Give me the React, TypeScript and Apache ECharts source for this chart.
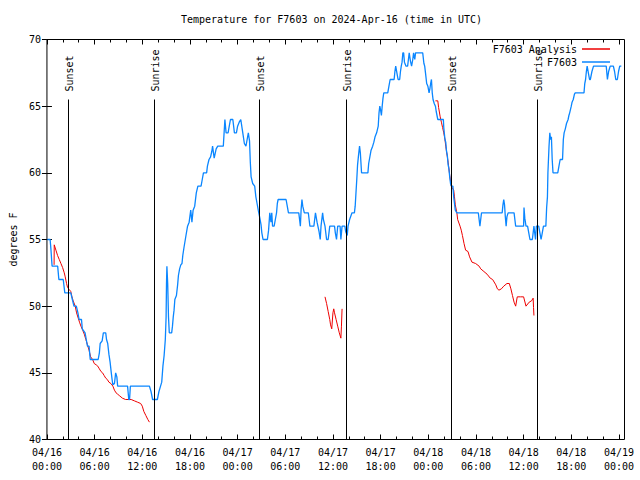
import React, { useEffect, useRef } from 'react';
import * as echarts from 'echarts';

const TITLE = 'Temperature for F7603 on 2024-Apr-16 (time in UTC)';
const Y_NAME = 'degrees F';
const START_MONTH = '04';
const START_DAY = 16;
const X_MAX = 72.7;
const Y_MIN = 40;
const Y_MAX = 70;
const Y_STEP = 5;
const SUN_LINE_TOP = 65.5;

const majorTicks = [0, 6, 12, 18, 24, 30, 36, 42, 48, 54, 60, 66, 72];
const minorTicks = [2, 4, 8, 10, 14, 16, 20, 22, 26, 28, 32, 34, 38, 40, 44, 46, 50, 52, 56, 58, 62, 64, 68, 70];

const sunsetHours = [2.65, 26.7, 50.85];
const sunriseHours = [13.45, 37.68, 61.69];

// F7603 observations: [hours since 04/16 00:00 UTC, deg F]
const obsF7603: [number, number][] = [
  [0.05,55],[0.4,55],[0.5,54.3],[0.6,53.4],[0.65,53],[1.35,53],[1.5,52],[2.05,52],[2.25,51],[3.0,51],[3.2,50.5],[3.4,50],[3.7,50],[3.9,49.5],[4.05,49],[4.35,49],[4.45,48.3],[4.8,48],[4.95,47.5],[5.1,47],[5.3,47],[5.45,46],[6.45,46],[6.6,46.5],[6.7,47.2],[6.95,47.4],[7.1,48],[7.4,48],[7.5,47.5],[7.65,47.2],[7.8,46.4],[7.95,45.8],[8.1,45],[8.2,44.5],[8.3,44.1],[8.5,44.2],[8.65,45],[8.8,44.7],[8.9,44],[10.15,44],[10.3,43],[10.4,43],[10.5,44],[12.9,44],[13.1,43.6],[13.3,43],[13.9,43],
  [14.1,43.6],[14.3,44],[14.45,44.3],[14.6,45.5],[14.75,46.3],[14.9,47.5],[15.0,49.2],[15.05,51.7],[15.1,53],[15.2,51.7],[15.3,49.2],[15.4,48],[15.7,48],[15.8,48.5],[15.9,49.2],[16.0,49.7],[16.1,50.5],[16.3,50.8],[16.45,51.6],[16.55,52.3],[16.7,52.8],[16.85,53.1],[17.0,53.2],[17.1,53.8],[17.25,54.4],[17.5,55.3],[17.7,56],[17.9,56.3],[18.1,57.2],[18.25,56.3],[18.4,57.2],[18.6,57.5],[18.8,58.5],[19.0,59],[19.4,59],[19.55,59.5],[19.7,60],[20.1,60],[20.2,60.5],[20.4,61],[20.6,61.2],[20.75,61.6],[20.85,62],[21.05,61.1],[21.3,61.8],[21.5,62],[22.2,62],[22.3,63],[22.4,64],[22.55,63],[22.8,63],[22.95,63.5],[23.1,64],[23.4,64],[23.6,63],[23.85,63],[24.0,63.5],[24.2,63.8],[24.4,64],[24.6,63.2],[24.85,62.2],[25.05,62],[25.2,62.5],[25.35,63],[25.5,62.4],[25.6,60.8],[25.7,59.7],[25.9,59.2],[26.15,59],[26.3,58.2],[26.45,57.7],[26.6,57.2],[26.8,56.6],[26.95,56.1],[27.05,55.5],[27.2,55],[27.75,55],[27.9,55.7],
  [28.05,57],[28.2,56.3],[28.3,57],[28.4,56],[28.6,56],[28.75,56.5],[28.9,57],[29.0,57.7],[29.1,58],[30.1,58],[30.25,57.5],[30.4,57],[31.7,57],[31.8,56.5],[31.9,56],[32.0,57.3],[32.1,58],[32.2,57.5],[32.4,57],[32.9,57],[33.0,56.5],[33.1,56],[33.6,56],[33.8,57],[34.0,56.3],[34.25,55.6],[34.4,55],[34.5,56],[34.7,57],[34.8,56.5],[35.0,56],[35.1,55.5],[35.2,55],[35.4,55],[35.5,55.5],[35.6,56],[36.2,56],[36.3,55.5],[36.45,55],[36.6,56],[36.9,56],[37.0,55],[37.15,56],[37.5,56],[37.6,55.6],[37.8,55.3],[37.9,56],[38.1,56.5],[38.4,57],[38.7,57],[38.8,57.5],[38.9,58.5],[39.0,59.5],[39.1,60.6],[39.2,61.2],[39.35,62],[39.45,61.5],[39.6,60],[40.4,60],[40.5,60.7],[40.8,61.7],[41.0,62],[41.15,62.3],[41.3,62.7],[41.5,63],[41.7,63.5],[41.8,64.5],[41.9,65],[42.0,64.7],[42.1,64.3],[42.2,65],[42.3,65.6],[42.4,66],[42.9,66],[43.05,66.5],[43.2,67],[43.7,67],[43.8,67.6],[43.9,68],[44.05,67.5],[44.2,67],[44.4,67],[44.5,67.6],[44.6,68],[44.7,68.3],[44.8,69],[44.9,69],[45.0,68.3],[45.2,68],[45.4,68],[45.5,68.5],[45.6,69],[45.75,68.4],[45.9,68],[46.05,68.5],[46.15,69],[46.3,68.5],[46.4,69],[47.3,69],[47.45,68.2],[47.55,68],[47.65,67.5],[47.8,66.7],[47.95,66.5],[48.1,66],[48.2,66.3],[48.3,66.7],[48.4,67],[48.5,66],[48.6,65.5],[48.75,65.2],[48.9,65],[49.0,64.6],[49.2,64],[49.9,64],[49.95,63.4],[50.1,62.5],[50.2,62.3],[50.3,61.6],[50.4,61.3],[50.5,60.6],[50.6,60.3],[50.7,59.7],[50.8,59.2],[50.9,59],[51.1,59],[51.2,58.2],[51.3,57.7],[51.4,57.2],[51.6,57],[54.3,57],[54.4,56.5],[54.5,56],[54.6,56.5],[54.7,57],[57.3,57],[57.4,57.6],[57.5,58],[57.6,57.6],[57.7,56.7],[57.8,56],[57.9,56.7],[58.05,57],[58.8,57],[58.9,56.5],[59.0,56],[60.0,56],[60.05,57.4],[60.15,56.6],[60.3,56],[60.5,56],[60.65,55.5],[60.8,55],[61.1,55],[61.2,55.5],[61.3,56],[61.4,55.5],[61.5,55],[61.6,56],[61.9,56],[62.05,55.5],[62.2,55],[62.35,55.5],[62.5,56],[62.8,56],[62.9,57.4],[63.0,58.2],[63.06,60],[63.2,62],[63.3,63],[63.4,62.5],[63.5,62.7],[63.6,61],[63.7,60],[64.3,60],[64.45,60.5],[64.6,61],[64.9,61],[65.0,62.5],[65.1,63],[65.25,63.3],[65.4,63.7],[65.6,64],[65.7,64.3],[65.8,64.5],[66.0,65],[66.1,65.3],[66.25,65.5],[66.4,65.9],[66.5,66],[67.6,66],[67.7,66.7],[67.8,67],[67.9,67.6],[68.0,68],[68.15,67.5],[68.3,67],[68.4,67],[68.6,67.6],[68.8,68],[70.4,68],[70.55,67],[70.7,67.6],[70.9,68],[71.3,68],[71.45,67.6],[71.6,67],[71.8,67],[71.95,67.6],[72.1,68],[72.3,68],
];

// F7603 Analysis, three separate runs
const analysisRun1: [number, number][] = [
  [0.9,53.1],[0.92,54.6],[1.13,54.2],[1.34,53.8],[1.55,53.5],[1.76,53.2],[1.97,52.9],[2.18,52.5],[2.3,52.2],[2.47,51.7],[2.6,51.4],[2.8,51.25],[3.0,51.1],[3.15,50.7],[3.3,50.4],[3.56,50],[3.73,49.5],[3.94,49.1],[4.1,48.8],[4.28,48.5],[4.5,48.2],[4.7,47.9],[4.9,47.5],[5.1,47.1],[5.3,46.7],[5.5,46.2],[5.75,46],[5.95,45.7],[6.2,45.6],[6.4,45.5],[6.6,45.3],[6.8,45.1],[7.0,45],[7.2,44.8],[7.4,44.6],[7.6,44.5],[7.8,44.3],[8.05,44.2],[8.3,44],[8.5,43.7],[8.7,43.5],[8.9,43.4],[9.1,43.3],[9.5,43.1],[9.9,43.0],[10.6,43.0],[11.0,42.9],[11.4,42.8],[11.8,42.7],[12.0,42.5],[12.2,42.1],[12.45,41.8],[12.7,41.5],[12.9,41.3],
];
const analysisRun2: [number, number][] = [
  [35.0,50.7],[35.2,50.2],[35.4,49.6],[35.6,49.0],[35.7,48.6],[35.85,48.3],[36.0,49.5],[36.1,49.8],[36.2,49.5],[36.4,49.0],[36.6,48.5],[36.8,48.0],[37.0,47.6],[37.07,48.5],[37.15,49.8],
];
const analysisRun3: [number, number][] = [
  [48.9,65.4],[49.2,65.4],[49.3,64.9],[49.5,64.2],[49.65,63.8],[49.8,63.4],[49.95,63.0],[50.1,62.5],[50.2,62.0],[50.3,61.6],[50.5,60.8],[50.6,60.3],[50.7,59.8],[50.9,59.0],[51.0,58.9],[51.2,58.7],[51.3,58.2],[51.4,57.6],[51.6,57.0],[51.7,56.5],[52.0,56.0],[52.15,55.7],[52.3,55.3],[52.5,54.7],[52.7,54.2],[53.0,54.1],[53.2,53.7],[53.5,53.3],[53.96,53.2],[54.4,53.0],[54.6,52.8],[55.0,52.6],[55.4,52.4],[55.8,52.1],[56.1,52.0],[56.5,51.6],[56.7,51.3],[56.9,51.2],[57.2,51.3],[57.5,51.5],[57.9,51.7],[58.2,51.7],[58.4,51.3],[58.6,50.8],[58.8,50.3],[59.0,50.0],[59.2,50.7],[59.6,50.7],[60.0,50.7],[60.3,50.0],[60.7,50.3],[61.0,50.4],[61.2,50.6],[61.25,49.9],[61.3,49.3],
];

const FONT = 'DejaVu Sans Mono';
const RED = '#ee0000';
const BLUE = '#0a86ff';

const sunEvents = [
  ...sunsetHours.map((t) => ({ value: [t], name: 'Sunset' })),
  ...sunriseHours.map((t) => ({ value: [t], name: 'Sunrise' })),
];

const fmtTime = (v: number) => {
  const h = Math.round(v);
  const day = START_DAY + Math.floor(h / 24);
  const hh = h % 24;
  return `${START_MONTH}/${String(day).padStart(2, '0')}\n${String(hh).padStart(2, '0')}:00`;
};

const xBase = (position: 'top' | 'bottom', ticks: number[], len: number, labels: boolean) => ({
  type: 'value' as const,
  min: 0,
  max: X_MAX,
  position,
  axisLine: { show: false },
  splitLine: { show: false },
  axisTick: { show: true, inside: true, length: len, customValues: ticks, lineStyle: { color: '#000', width: 1 } },
  axisLabel: labels
    ? { show: true, customValues: ticks, formatter: fmtTime, margin: 6, fontFamily: FONT, fontSize: 10, lineHeight: 14, color: '#000' }
    : { show: false },
});

export default function App() {
  const ref = useRef<HTMLDivElement>(null);
  useEffect(() => {
    const chart = echarts.init(ref.current!, null, { renderer: 'svg' });
    const analysisStyle = {
      type: 'line' as const,
      name: 'F7603 Analysis',
      xAxisIndex: 0,
      yAxisIndex: 0,
      showSymbol: false,
      symbol: 'none',
      lineStyle: { color: RED, width: 1 },
      itemStyle: { color: RED },
      z: 2,
    };
    chart.setOption({
      animation: false,
      backgroundColor: '#fff',
      textStyle: { fontFamily: FONT },
      title: {
        text: TITLE,
        left: 181,
        top: 13,
        padding: 0,
        textStyle: { fontFamily: FONT, fontSize: 10, fontWeight: 'normal', color: '#000', lineHeight: 12 },
      },
      legend: [
        {
          data: ['F7603 Analysis'], right: 30, top: 44, orient: 'vertical', align: 'right', padding: 0,
          icon: 'rect', itemWidth: 28, itemHeight: 1.5, selectedMode: false,
          textStyle: { fontFamily: FONT, fontSize: 10, color: '#000' },
        },
        {
          data: ['F7603'], right: 30, top: 57, orient: 'vertical', align: 'right', padding: 0,
          icon: 'rect', itemWidth: 28, itemHeight: 1.5, selectedMode: false,
          textStyle: { fontFamily: FONT, fontSize: 10, color: '#000' },
        },
      ],
      grid: {
        left: 46.5, right: 15.5, top: 39.5, bottom: 40.5,
        show: true, borderColor: '#000', borderWidth: 1, backgroundColor: 'transparent',
      },
      xAxis: [
        xBase('bottom', majorTicks, 5, true),
        xBase('bottom', minorTicks, 3, false),
        xBase('top', majorTicks, 5, false),
        xBase('top', minorTicks, 3, false),
      ],
      yAxis: [
        {
          type: 'value', min: Y_MIN, max: Y_MAX, interval: Y_STEP, position: 'left',
          axisLine: { show: false }, splitLine: { show: false },
          axisTick: { inside: true, length: 5, lineStyle: { color: '#000' } },
          axisLabel: { margin: 6, fontFamily: FONT, fontSize: 10, color: '#000' },
          name: Y_NAME, nameLocation: 'middle', nameGap: 28, nameRotate: 90,
          nameTextStyle: { fontFamily: FONT, fontSize: 10, color: '#000' },
        },
        {
          type: 'value', min: Y_MIN, max: Y_MAX, interval: Y_STEP, position: 'right',
          axisLine: { show: false }, splitLine: { show: false },
          axisTick: { inside: true, length: 5, lineStyle: { color: '#000' } },
          axisLabel: { show: false },
        },
      ],
      series: [
        { ...analysisStyle, data: analysisRun1 },
        { ...analysisStyle, data: analysisRun2 },
        { ...analysisStyle, data: analysisRun3 },
        {
          type: 'line', name: 'F7603', xAxisIndex: 0, yAxisIndex: 0,
          showSymbol: false, symbol: 'none',
          lineStyle: { color: BLUE, width: 1.3 }, itemStyle: { color: BLUE },
          data: obsF7603, z: 3,
        },
        {
          type: 'custom', name: 'sun', xAxisIndex: 0, yAxisIndex: 0, z: 4,
          encode: { x: 0 },
          data: sunEvents,
          renderItem: (params: any, api: any) => {
            const t = api.value(0);
            const top = api.coord([t, SUN_LINE_TOP]);
            const bot = api.coord([t, Y_MIN]);
            const x = Math.round(top[0]) + 0.5;
            return {
              type: 'group',
              children: [
                { type: 'line', shape: { x1: x, y1: top[1], x2: x, y2: bot[1] }, style: { stroke: '#000', lineWidth: 1 } },
                {
                  type: 'text', x: x + 0.5, y: top[1] - 8, rotation: Math.PI / 2,
                  style: { text: sunEvents[params.dataIndex].name, fill: '#000', font: `10px ${FONT}`, textAlign: 'left', textVerticalAlign: 'middle' },
                },
              ],
            };
          },
        },
      ],
    });
    return () => chart.dispose();
  }, []);
  return <div ref={ref} style={{ position: 'absolute', left: 0, top: 0, width: 640, height: 480, background: '#fff' }} />;
}
